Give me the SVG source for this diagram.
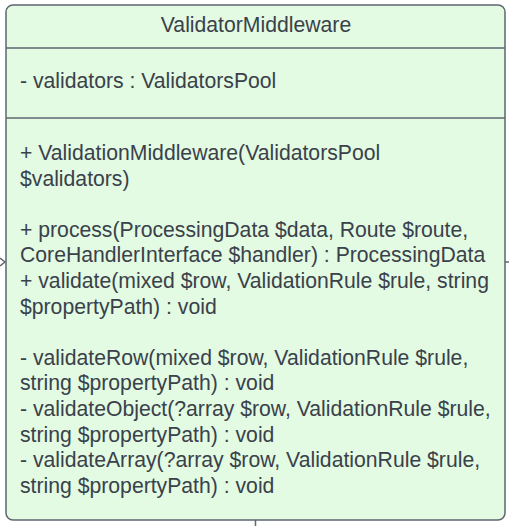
<svg xmlns="http://www.w3.org/2000/svg" width="509" height="526" viewBox="0 0 509 526">
<style>
.t{font-family:"Liberation Sans",Arial,sans-serif;font-size:21.2px;fill:#3a414a}
.c{stroke:#5f6670;stroke-width:1.5;fill:none}
</style>
<rect width="509" height="526" fill="#ffffff"/>
<g id="connectors">
<path class="c" d="M0,258 L5,262 L0,266"/>
<line class="c" x1="505" y1="262" x2="509" y2="262"/>
<line class="c" x1="255.5" y1="520" x2="255.5" y2="526"/>
</g>
<g id="ValidatorMiddleware">
<rect x="6" y="5" width="499" height="515" rx="7" fill="#e3fae3" stroke="#5f6670" stroke-width="1.5"/>
<line x1="6" y1="48" x2="505" y2="48" stroke="#5f6670" stroke-width="1.5"/>
<line x1="6" y1="118" x2="505" y2="118" stroke="#5f6670" stroke-width="1.5"/>
<text class="t" x="256" y="32" text-anchor="middle">ValidatorMiddleware</text>
<text class="t" x="20" y="88">- validators : ValidatorsPool</text>
<text class="t" x="20" y="160">+ ValidationMiddleware(ValidatorsPool</text>
<text class="t" x="20" y="185.6">$validators)</text>
<text class="t" x="20" y="236.8">+ process(ProcessingData $data, Route $route,</text>
<text class="t" x="20" y="262.4">CoreHandlerInterface $handler) : ProcessingData</text>
<text class="t" x="20" y="288">+ validate(mixed $row, ValidationRule $rule, string</text>
<text class="t" x="20" y="313.6">$propertyPath) : void</text>
<text class="t" x="20" y="364.8">- validateRow(mixed $row, ValidationRule $rule,</text>
<text class="t" x="20" y="390.4">string $propertyPath) : void</text>
<text class="t" x="20" y="416">- validateObject(?array $row, ValidationRule $rule,</text>
<text class="t" x="20" y="441.6">string $propertyPath) : void</text>
<text class="t" x="20" y="467.2">- validateArray(?array $row, ValidationRule $rule,</text>
<text class="t" x="20" y="492.8">string $propertyPath) : void</text>
</g>
</svg>
